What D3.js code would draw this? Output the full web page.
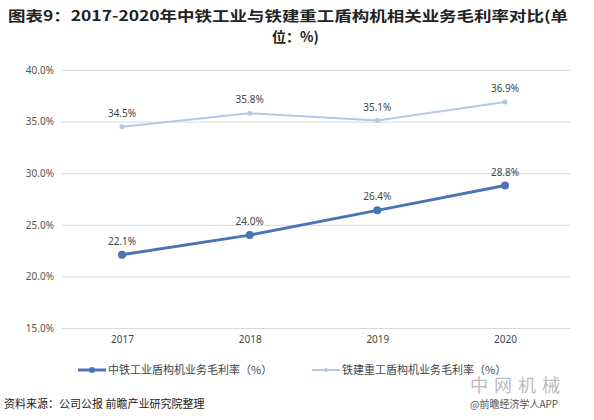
<!DOCTYPE html><html><head><meta charset="utf-8"><script src="https://cdn.jsdelivr.net/npm/d3@7"></script>
<style>body{margin:0;background:#fff;font-family:"Noto Sans CJK SC","Noto Sans",sans-serif}</style></head><body>
<svg id="c" width="594" height="420"></svg>
<script>
const years=["2017","2018","2019","2020"];
const crcc=[22.1,24.0,26.4,28.8];
const crcch=[34.5,35.8,35.1,36.9];
const yTicks=[15,20,25,30,35,40];
const names=["中铁工业盾构机业务毛利率（%）","铁建重工盾构机业务毛利率（%）"];
const colors=["#4a74b5","#b4c9e6"];
const svg=d3.select("#c");
svg.append("text").attr("x",8).attr("y",21).attr("font-size",14).attr("font-weight","bold").attr("fill","#222").attr("textLength",560).attr("lengthAdjust","spacingAndGlyphs").text("图表9：2017-2020年中铁工业与铁建重工盾构机相关业务毛利率对比(单");
svg.append("text").attr("x",272).attr("y",42).attr("font-size",14).attr("font-weight","bold").attr("fill","#222").text("位：%)");
const x=d3.scalePoint().domain(years).range([122,505]);
const y=d3.scaleLinear().domain([15,40]).range([328,70]);
const ax=svg.append("g").attr("transform","translate(62,0)").call(d3.axisLeft(y).tickValues(yTicks).tickSize(-508).tickFormat(d=>d.toFixed(1)+"%"));
ax.select(".domain").remove();
ax.selectAll("line").attr("stroke","#d9d9d9");
ax.selectAll("text").attr("font-size",10).attr("fill","#555").attr("x",-8).attr("font-family","Noto Sans");
const xa=svg.append("g").attr("transform","translate(0,328)").call(d3.axisBottom(x).tickSize(0));
xa.select(".domain").attr("stroke","#d9d9d9");
xa.selectAll("text").attr("font-size",10).attr("fill","#444").attr("dy","1.2em").attr("font-family","Noto Sans");
[[crcc,0,3,4],[crcch,1,2,2.5]].forEach(([d,i,w,r])=>{
 svg.append("path").datum(d).attr("fill","none").attr("stroke",colors[i]).attr("stroke-width",w)
 .attr("d",d3.line().x((v,j)=>x(years[j])).y(v=>y(v)));
 svg.selectAll(null).data(d).enter().append("circle").attr("cx",(v,j)=>x(years[j])).attr("cy",v=>y(v)).attr("r",r).attr("fill",colors[i]);
 svg.selectAll(null).data(d).enter().append("text").attr("x",(v,j)=>x(years[j])).attr("y",v=>y(v)-10).attr("text-anchor","middle").attr("font-size",10).attr("fill","#444").attr("font-family","Noto Sans").text(v=>v.toFixed(1)+"%");
});
[[78,0,3,3],[312,1,2,2]].forEach(([lx,i,w,r])=>{
 svg.append("line").attr("x1",lx).attr("x2",lx+28).attr("y1",370).attr("y2",370).attr("stroke",colors[i]).attr("stroke-width",w);
 svg.append("circle").attr("cx",lx+14).attr("cy",370).attr("r",r).attr("fill",colors[i]);
 svg.append("text").attr("x",lx+30).attr("y",374).attr("font-size",11).attr("fill","#444").text(names[i]);
});
svg.append("text").attr("x",4).attr("y",408).attr("font-size",11).attr("fill","#222").text("资料来源：公司公报 前瞻产业研究院整理");
svg.append("text").attr("x",470).attr("y",392).attr("font-size",18).attr("fill","#bbb").attr("letter-spacing",6).text("中网机械");
svg.append("text").attr("x",470).attr("y",408).attr("font-size",10).attr("fill","#555").text("@前瞻经济学人APP");
</script></body></html>
